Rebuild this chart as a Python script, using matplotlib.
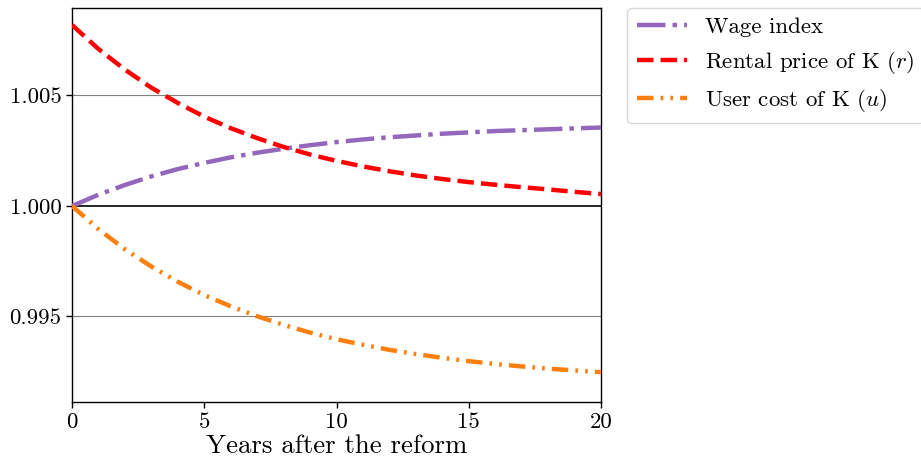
import matplotlib
matplotlib.use("Agg")
import matplotlib.pyplot as plt
import numpy as np

years = list(range(0, 21))
wage_dev = [0, 0.51, 0.95, 1.34, 1.67, 1.95, 2.20, 2.41, 2.59, 2.75, 2.89,
            3.01, 3.11, 3.19, 3.27, 3.33, 3.39, 3.43, 3.47, 3.51, 3.55]
rental_dev = [8.19, 7.10, 6.17, 5.35, 4.66, 4.04, 3.52, 3.07, 2.67, 2.33, 2.04,
              1.79, 1.57, 1.38, 1.22, 1.08, 0.96, 0.85, 0.75, 0.64, 0.54]
user_dev = [0, -1.05, -1.96, -2.74, -3.43, -4.03, -4.54, -4.99, -5.38, -5.73, -6.03,
            -6.28, -6.51, -6.70, -6.87, -7.02, -7.15, -7.26, -7.36, -7.44, -7.52]
wage = [1 + v / 1000 for v in wage_dev]
rental = [1 + v / 1000 for v in rental_dev]
user = [1 + v / 1000 for v in user_dev]

labels = ["Wage index", "Rental price of K ($r$)", "User cost of K ($u$)"]
xticks = [0, 5, 10, 15, 20]
yticks = [0.995, 1.000, 1.005]
ytick_labels = ["0.995", "1.000", "1.005"]

plt.rcParams['font.family'] = ['cmr10', 'DejaVu Serif']
plt.rcParams['mathtext.fontset'] = 'cm'
plt.rcParams['axes.formatter.use_mathtext'] = True

fig = plt.figure(figsize=(9.21, 4.68), dpi=100)
ax = fig.add_axes([0.0782, 0.141, 0.5744, 0.842])

ax.axhline(1.0, color='black', lw=1.2, zorder=1)
for y in [0.995, 1.005]:
    ax.axhline(y, color='gray', lw=0.8, zorder=1)

ax.plot(years, wage, color='#9467bd', lw=3.2, ls='-.', label=labels[0], zorder=3)
ax.plot(years, rental, color='red', lw=3.2, ls='--', label=labels[1], zorder=3)
ax.plot(years, user, color='#ff7f0e', lw=3.2, ls=(0, (3.7, 1.6, 0.6, 1.6, 0.6, 1.6)), label=labels[2], zorder=3)

ax.set_xlim(0, 20)
ax.set_ylim(0.99113, 1.00896)
ax.set_xticks(xticks)
ax.set_xticklabels([str(t) for t in xticks], fontsize=16.5)
ax.set_yticks(yticks)
ax.set_yticklabels(ytick_labels, fontsize=16.5)
ax.tick_params(direction='out', length=4, width=1)
for s in ax.spines.values():
    s.set_color('black')
    s.set_linewidth(1)
ax.set_xlabel("Years after the reform", fontsize=19.3, labelpad=2)

leg = ax.legend(loc='upper left', bbox_to_anchor=(1.05, 1.0), borderaxespad=0,
                fontsize=16.5, handlelength=2.2, handletextpad=0.8, frameon=True)
leg.get_frame().set_edgecolor('#cccccc')

fig.savefig("out.png", dpi=100)
